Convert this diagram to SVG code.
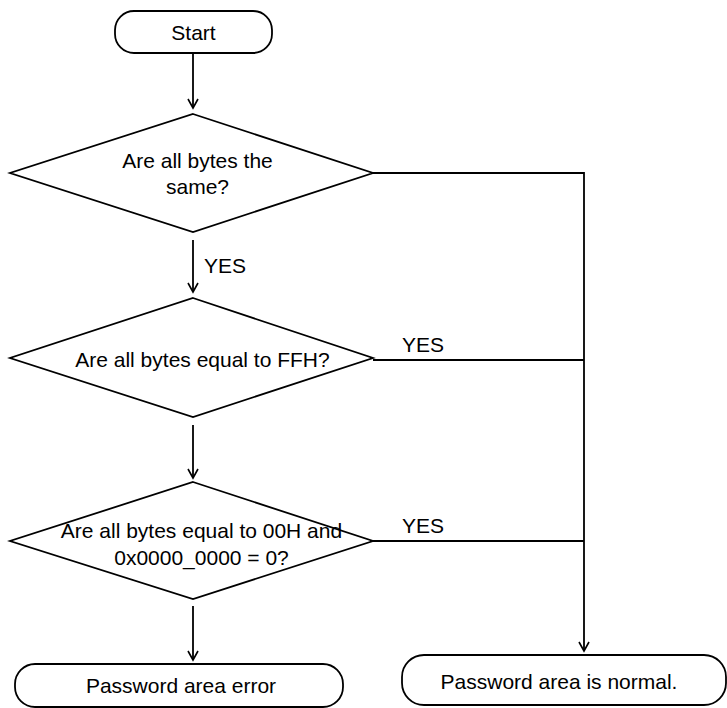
<svg xmlns="http://www.w3.org/2000/svg" width="727" height="708" viewBox="0 0 727 708">
<style>
.s{fill:#fff;stroke:#000;stroke-width:1.8}
.t{font-family:"Liberation Sans",Arial,sans-serif;font-size:21px;fill:#000}
.c{text-anchor:middle}
.l{fill:none;stroke:#000;stroke-width:1.8}
</style>
<defs>
<marker id="a" markerWidth="12" markerHeight="12" refX="10" refY="6" orient="auto" markerUnits="userSpaceOnUse">
<path d="M1,1 L10,6 L1,11" fill="none" stroke="#000" stroke-width="1.6"/>
</marker>
</defs>
<rect width="727" height="708" fill="#fff"/>
<g id="start">
<rect class="s" x="115" y="11" width="157" height="42" rx="19"/>
<text class="t c" x="193.5" y="40">Start</text>
</g>
<g id="q1">
<polygon class="s" points="193,114 373,173 193,232 10,173"/>
<text class="t c" x="197.5" y="168">Are all bytes the</text>
<text class="t c" x="197.5" y="194">same?</text>
</g>
<g id="q2">
<polygon class="s" points="193,298 373,358 193,417 10,358"/>
<text class="t c" x="202.5" y="367">Are all bytes equal to FFH?</text>
</g>
<g id="q3">
<polygon class="s" points="193,482 373,541 193,599 10,541"/>
<text class="t c" x="201.5" y="538">Are all bytes equal to 00H and</text>
<text class="t c" x="201.5" y="565">0x0000_0000 = 0?</text>
</g>
<g id="err">
<rect class="s" x="15" y="664" width="328" height="43" rx="20"/>
<text class="t c" x="181" y="693">Password area error</text>
</g>
<g id="ok">
<rect class="s" x="402" y="655" width="324" height="50" rx="22"/>
<text class="t c" x="559" y="689">Password area is normal.</text>
</g>
<g id="connectors">
<line class="l" x1="193" y1="53" x2="193" y2="108" marker-end="url(#a)"/>
<line class="l" x1="193" y1="240" x2="193" y2="292" marker-end="url(#a)"/>
<text class="t" x="204" y="273">YES</text>
<line class="l" x1="193" y1="425" x2="193" y2="478" marker-end="url(#a)"/>
<line class="l" x1="193" y1="606" x2="193" y2="660" marker-end="url(#a)"/>
<polyline class="l" points="373,173 584,173 584,651" marker-end="url(#a)"/>
<line class="l" x1="373" y1="360" x2="584" y2="360"/>
<text class="t" x="402" y="352">YES</text>
<line class="l" x1="373" y1="541" x2="584" y2="541"/>
<text class="t" x="402" y="533">YES</text>
</g>
</svg>
